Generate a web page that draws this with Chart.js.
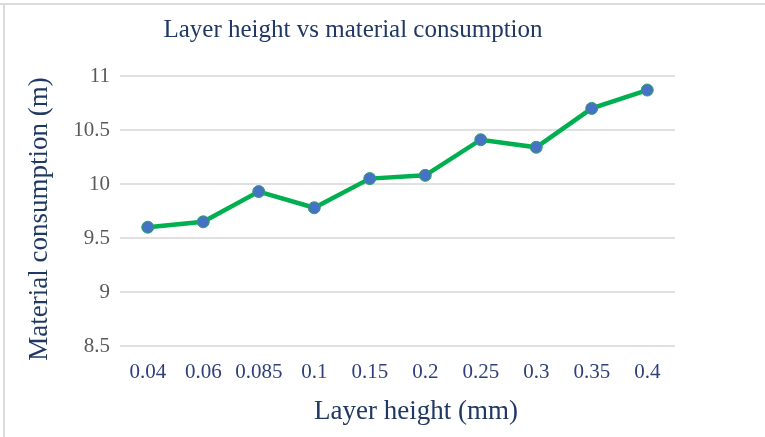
<!DOCTYPE html>
<html>
<head>
<meta charset="utf-8">
<script src="https://cdn.jsdelivr.net/npm/chart.js@4/dist/chart.umd.min.js"></script>
<style>
  html, body { margin: 0; padding: 0; background: #fff; }
  #wrap { position: relative; width: 765px; height: 437px; }
</style>
</head>
<body>
<div id="wrap"><canvas id="c" width="765" height="437"></canvas></div>
<script>
// Layer height (mm) against filament used (m)
const layerHeights = ['0.04', '0.06', '0.085', '0.1', '0.15', '0.2', '0.25', '0.3', '0.35', '0.4'];
const consumption = [9.60, 9.65, 9.93, 9.78, 10.05, 10.08, 10.41, 10.34, 10.70, 10.87];
const yTicks = [8.5, 9, 9.5, 10, 10.5, 11];

const chartTitle = 'Layer height vs material consumption';
const xTitle = 'Layer height (mm)';
const yTitle = 'Material consumption (m)';

const NAVY = '#1f3864';
const SERIF = "'Liberation Serif', 'DejaVu Serif', serif";

// Frame lines and the three titles
const decor = {
  id: 'decor',
  beforeDraw(chart) {
    const ctx = chart.ctx;
    ctx.save();
    ctx.strokeStyle = '#dcdcdc';
    ctx.lineWidth = 2;
    ctx.beginPath();
    ctx.moveTo(0, 4); ctx.lineTo(765, 4);
    ctx.moveTo(4, 4); ctx.lineTo(4, 437);
    ctx.stroke();
    ctx.restore();
  },
  afterDraw(chart) {
    const ctx = chart.ctx;
    ctx.save();
    ctx.fillStyle = NAVY;
    ctx.textAlign = 'center';
    ctx.textBaseline = 'alphabetic';
    ctx.font = '25px ' + SERIF;
    ctx.fillText(chartTitle, 353, 37);
    ctx.font = '27px ' + SERIF;
    ctx.fillText(xTitle, 416, 419);
    ctx.translate(47, 219);
    ctx.rotate(-Math.PI / 2);
    ctx.fillText(yTitle, 0, 0);
    ctx.restore();
  }
};

new Chart(document.getElementById('c'), {
  type: 'line',
  data: {
    labels: layerHeights,
    datasets: [{
      data: consumption,
      borderColor: '#00b050',
      borderWidth: 4.5,
      pointRadius: 6,
      pointBackgroundColor: '#4472c4',
      pointBorderColor: '#2fa060',
      pointBorderWidth: 1,
      tension: 0
    }]
  },
  options: {
    responsive: false,
    animation: false,
    layout: { padding: { left: 0, top: 76, right: 90, bottom: 0 } },
    plugins: { legend: { display: false }, tooltip: { enabled: false } },
    scales: {
      x: {
        offset: true,
        grid: { display: false, offset: true },
        border: { display: false },
        ticks: { color: '#2f3f7a', font: { family: SERIF, size: 21 }, padding: 6, maxRotation: 0, autoSkip: false },
        afterFit(s) { s.height = 91; }
      },
      y: {
        min: yTicks[0],
        max: yTicks[yTicks.length - 1],
        afterBuildTicks(s) { s.ticks = yTicks.map(v => ({ value: v })); },
        grid: { color: '#e0e0e0', lineWidth: 2, drawTicks: false },
        border: { display: false },
        ticks: {
          color: '#595959',
          font: { family: SERIF, size: 21 },
          padding: 10,
          callback: v => String(v)
        },
        afterFit(s) { s.width = 120; }
      }
    }
  },
  plugins: [decor]
});
</script>
</body>
</html>
